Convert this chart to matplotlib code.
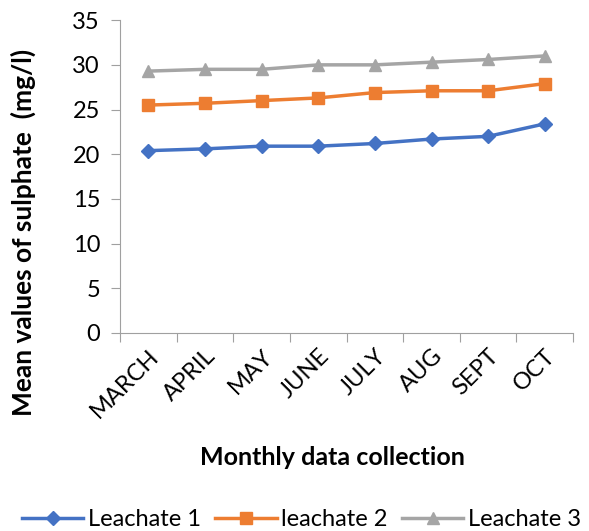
import matplotlib.pyplot as plt
import numpy as np

plt.rcParams['font.family'] = ['Lato', 'DejaVu Sans']

months = ['MARCH', 'APRIL', 'MAY', 'JUNE', 'JULY', 'AUG', 'SEPT', 'OCT']
leachate1 = [20.4, 20.6, 20.9, 20.9, 21.2, 21.7, 22.0, 23.4]
leachate2 = [25.5, 25.7, 26.0, 26.3, 26.9, 27.1, 27.1, 27.9]
leachate3 = [29.3, 29.5, 29.5, 30.0, 30.0, 30.3, 30.6, 31.0]

fig = plt.figure(figsize=(5.89, 5.31), dpi=100)
ax = fig.add_axes([0.204, 0.373, 0.769, 0.589])

x = np.arange(len(months))
ax.plot(x, leachate1, color='#4472C4', lw=2.5, marker='D', ms=7, label='Leachate 1')
ax.plot(x, leachate2, color='#ED7D31', lw=2.5, marker='s', ms=8, label='leachate 2')
ax.plot(x, leachate3, color='#A5A5A5', lw=2.5, marker='^', ms=9, label='Leachate 3')

ax.set_xlim(-0.5, len(months) - 0.5)
ax.set_ylim(0, 35)
ax.set_yticks(range(0, 36, 5))
ax.set_xticks(np.arange(-0.5, len(months), 1))
ax.set_xticklabels([])
ax.set_xticks(x, minor=True)
ax.set_xticklabels(months, minor=True, rotation=45, ha='right', va='top',
                   rotation_mode='anchor', fontsize=17)
ax.tick_params(axis='x', which='minor', length=0, pad=9)
ax.tick_params(axis='x', which='major', length=6.5, color='#a0a0a0')
ax.tick_params(axis='y', length=6.5, color='#a0a0a0', labelsize=17, pad=8)

for s in ['top', 'right']:
    ax.spines[s].set_visible(False)
for s in ['left', 'bottom']:
    ax.spines[s].set_color('#a0a0a0')

ax.set_ylabel('Mean values of sulphate  (mg/l)', fontsize=19, fontweight='bold')
ax.yaxis.set_label_coords(-0.185, 0.32)
ax.set_xlabel('Monthly data collection', fontsize=18, fontweight='bold', labelpad=20)
ax.xaxis.set_label_coords(0.468, -0.36)

fig.legend(loc='lower center', bbox_to_anchor=(0.512, -0.038), ncol=3, frameon=False,
           fontsize=17, handlelength=2.6, columnspacing=0.6, handletextpad=0.2)

fig.savefig('out.png', dpi=100)
